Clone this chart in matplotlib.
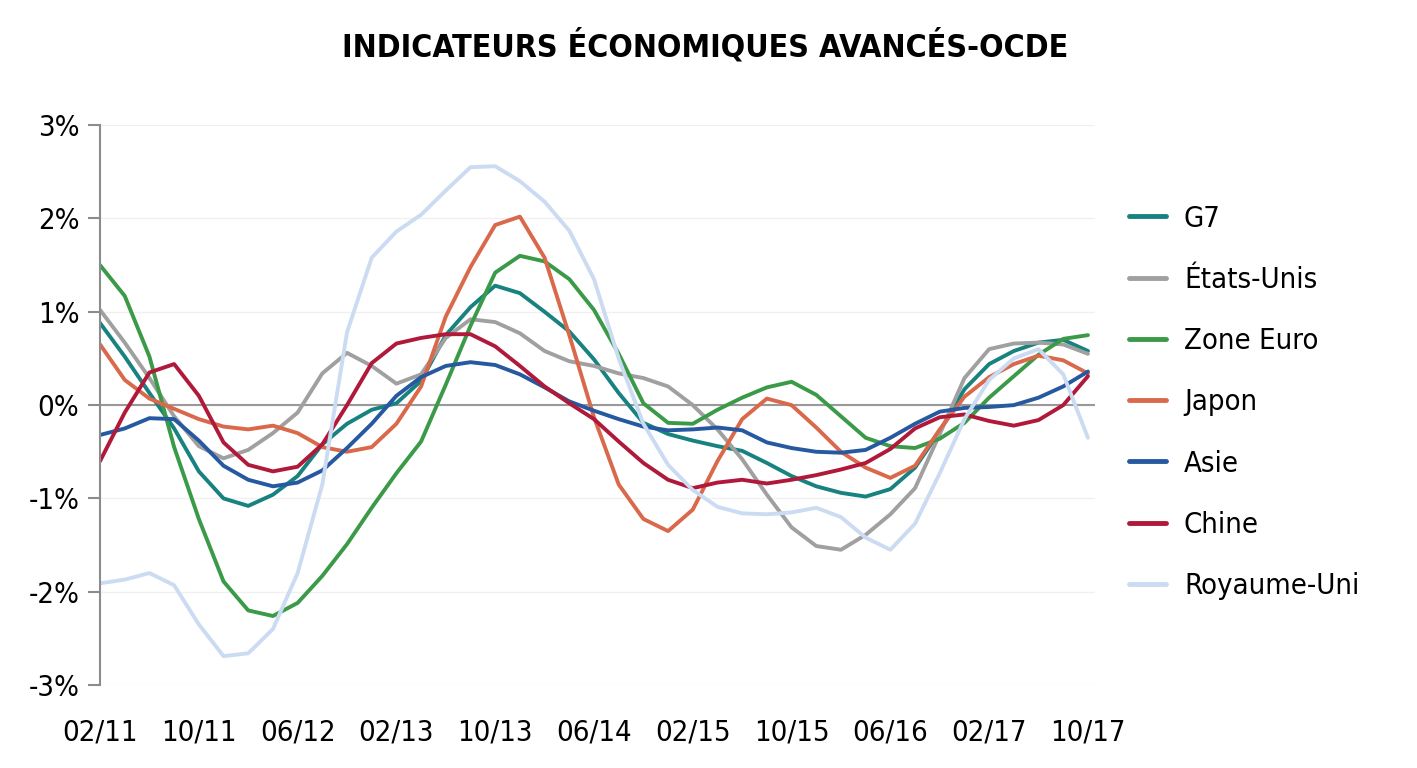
import matplotlib.pyplot as plt
from matplotlib.ticker import FuncFormatter

# mois depuis 02/11, un point tous les deux mois
mois = list(range(0, 81, 2))

g7 = [0.88, 0.52, 0.13, -0.25, -0.71, -1.0, -1.08, -0.96, -0.76, -0.42,
      -0.2, -0.05, 0.02, 0.26, 0.75, 1.05, 1.28, 1.2, 1.0, 0.79,
      0.49, 0.13, -0.19, -0.31, -0.38, -0.44, -0.49, -0.62, -0.76, -0.87,
      -0.94, -0.98, -0.9, -0.67, -0.28, 0.17, 0.44, 0.58, 0.67, 0.7, 0.58]
etats_unis = [1.02, 0.67, 0.29, -0.12, -0.44, -0.57, -0.48, -0.3, -0.08, 0.34,
              0.56, 0.42, 0.23, 0.33, 0.72, 0.92, 0.89, 0.77, 0.58, 0.47,
              0.42, 0.34, 0.29, 0.2, 0.0, -0.26, -0.58, -0.96, -1.31, -1.51,
              -1.55, -1.39, -1.17, -0.89, -0.31, 0.29, 0.6, 0.66, 0.67, 0.65, 0.55]
zone_euro = [1.5, 1.17, 0.52, -0.45, -1.22, -1.89, -2.2, -2.26, -2.12, -1.83,
             -1.49, -1.1, -0.73, -0.39, 0.22, 0.85, 1.42, 1.6, 1.54, 1.35,
             1.02, 0.55, 0.02, -0.19, -0.2, -0.05, 0.08, 0.19, 0.25, 0.11,
             -0.12, -0.35, -0.44, -0.46, -0.36, -0.19, 0.08, 0.31, 0.54, 0.71, 0.75]
japon = [0.65, 0.27, 0.07, -0.04, -0.15, -0.23, -0.26, -0.22, -0.3, -0.45,
         -0.5, -0.45, -0.2, 0.2, 0.95, 1.48, 1.93, 2.02, 1.58, 0.75,
         -0.13, -0.85, -1.22, -1.35, -1.12, -0.6, -0.15, 0.07, 0.0, -0.24,
         -0.5, -0.67, -0.78, -0.65, -0.26, 0.09, 0.3, 0.44, 0.53, 0.48, 0.34]
asie = [-0.32, -0.25, -0.14, -0.15, -0.38, -0.65, -0.8, -0.87, -0.83, -0.7,
        -0.46, -0.2, 0.1, 0.3, 0.42, 0.46, 0.43, 0.33, 0.19, 0.04,
        -0.06, -0.15, -0.23, -0.27, -0.26, -0.24, -0.27, -0.4, -0.46, -0.5,
        -0.51, -0.48, -0.35, -0.2, -0.07, -0.03, -0.02, 0.0, 0.08, 0.2, 0.36]
chine = [-0.6, -0.08, 0.35, 0.44, 0.1, -0.4, -0.64, -0.71, -0.66, -0.42,
         0.0, 0.45, 0.66, 0.72, 0.76, 0.76, 0.63, 0.42, 0.2, 0.02,
         -0.15, -0.39, -0.62, -0.8, -0.89, -0.83, -0.8, -0.84, -0.8, -0.75,
         -0.69, -0.62, -0.47, -0.25, -0.13, -0.1, -0.17, -0.22, -0.16, 0.0, 0.31]
royaume_uni = [-1.91, -1.87, -1.8, -1.93, -2.35, -2.69, -2.66, -2.4, -1.8, -0.85,
               0.78, 1.58, 1.86, 2.04, 2.3, 2.55, 2.56, 2.4, 2.18, 1.87,
               1.35, 0.5, -0.2, -0.64, -0.91, -1.09, -1.16, -1.17, -1.15, -1.1,
               -1.2, -1.42, -1.55, -1.27, -0.73, -0.15, 0.27, 0.5, 0.6, 0.33, -0.35]

series = [
    ("G7", g7, "#17827f"),
    ("États-Unis", etats_unis, "#a0a0a0"),
    ("Zone Euro", zone_euro, "#3a9a48"),
    ("Japon", japon, "#d9694a"),
    ("Asie", asie, "#2659a0"),
    ("Chine", chine, "#b0193a"),
    ("Royaume-Uni", royaume_uni, "#cbdcf2"),
]

tick_mois = list(range(0, 81, 8))
tick_labels = ["02/11", "10/11", "06/12", "02/13", "10/13", "06/14",
               "02/15", "10/15", "06/16", "02/17", "10/17"]

plt.rcParams['font.family'] = ['DejaVu Sans']
plt.rcParams['font.stretch'] = 'condensed'

fig = plt.figure(figsize=(14.17, 7.68), dpi=100)
ax = fig.add_axes([0.0706, 0.108, 0.7024, 0.729])

for nom, valeurs, couleur in series:
    ax.plot(mois, valeurs, color=couleur, lw=2.8, label=nom, solid_capstyle='round')

ax.set_ylim(-3, 3)
ax.set_xlim(0, 80.6)
ax.set_yticks([-3, -2, -1, 0, 1, 2, 3])
ax.yaxis.set_major_formatter(FuncFormatter(lambda v, p: f"{v:.0f}%"))
ax.set_xticks(tick_mois)
ax.set_xticklabels(tick_labels)

ax.grid(axis='y', color='#f0f0f0', lw=1)
ax.set_axisbelow(True)
ax.axhline(0, color='#999999', lw=1.5, zorder=1)

for s in ['top', 'right', 'bottom']:
    ax.spines[s].set_visible(False)
ax.spines['left'].set_color('#8c8c8c')
ax.spines['left'].set_linewidth(1.5)
ax.tick_params(axis='y', length=9, width=1.5, color='#8c8c8c', labelsize=21, pad=6)
ax.tick_params(axis='x', length=0, labelsize=21, pad=24)

fig.text(0.4975, 0.94, "INDICATEURS ÉCONOMIQUES AVANCÉS-OCDE", ha='center', va='center',
         fontsize=23, fontweight='bold')

leg = ax.legend(loc='center left', bbox_to_anchor=(1.007, 0.505), frameon=False,
                fontsize=21, handlelength=1.3, handletextpad=0.6, labelspacing=1.14)
for line in leg.get_lines():
    line.set_linewidth(3.5)

fig.savefig("out.png", dpi=100)
